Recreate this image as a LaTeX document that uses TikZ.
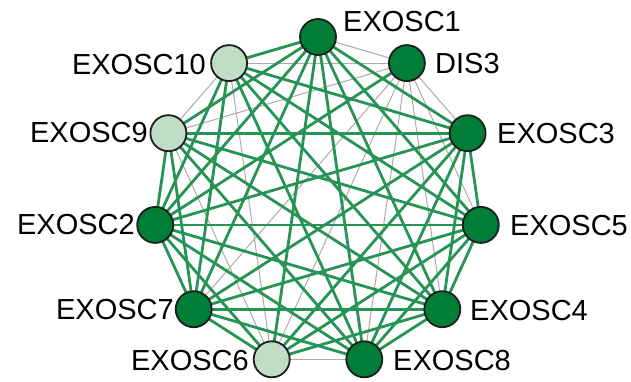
\documentclass[tikz,border=0pt]{standalone}
\usepackage{fontspec}
\setmainfont{Liberation Sans}
\definecolor{edgegreen}{RGB}{38,148,84}
\definecolor{edgegray}{RGB}{178,168,172}
\definecolor{darknode}{RGB}{0,125,55}
\definecolor{lightnode}{RGB}{192,221,197}
\definecolor{rimcol}{RGB}{30,30,30}
\tikzset{
  x=1pt, y=-1pt,
  protein/.style={circle, draw=rimcol, line width=1.8pt, minimum size=36pt, inner sep=0pt},
  core/.style={protein, fill=darknode},
  peripheral/.style={protein, fill=lightnode},
  strong/.style={draw=edgegreen, line width=2.8pt},
  weak/.style={draw=edgegray, line width=1pt},
  tag/.style={font=\fontsize{29}{32}\selectfont, inner sep=0pt}
}
\begin{document}
\begin{tikzpicture}
\useasboundingbox (0,0) rectangle (631,381);

% node positions on a regular 11-gon
\coordinate (p0)  at (318.0, 37.0);
\coordinate (p1)  at (406.9, 63.1);
\coordinate (p2)  at (467.6,133.2);
\coordinate (p3)  at (480.8,224.9);
\coordinate (p4)  at (442.3,309.2);
\coordinate (p5)  at (364.3,359.3);
\coordinate (p6)  at (271.7,359.3);
\coordinate (p7)  at (193.7,309.2);
\coordinate (p8)  at (155.2,224.9);
\coordinate (p9)  at (168.4,133.2);
\coordinate (p10) at (229.1, 63.1);

% weak associations
\foreach \a/\b in {0/1,1/2,1/3,1/4,1/5,1/6,1/7,1/9,1/10,10/9,10/6,9/6,6/5}
  \draw[weak] (p\a) -- (p\b);

% strong associations
\foreach \a/\b in {0/2,0/3,0/4,0/5,0/6,0/7,0/8,0/9,0/10,
                   1/8,
                   2/3,2/4,2/5,2/6,2/7,2/8,2/9,2/10,
                   3/4,3/5,3/6,3/7,3/8,3/9,3/10,
                   4/5,4/6,4/7,4/8,4/9,4/10,
                   5/7,5/8,5/9,5/10,
                   6/7,6/8,
                   7/8,7/9,7/10,
                   8/9,8/10}
  \draw[strong] (p\a) -- (p\b);

% proteins
\node[core]       (n0)  at (p0)  {};
\node[core]       (n1)  at (p1)  {};
\node[core]       (n2)  at (p2)  {};
\node[core]       (n3)  at (p3)  {};
\node[core]       (n4)  at (p4)  {};
\node[core]       (n5)  at (p5)  {};
\node[peripheral] (n6)  at (p6)  {};
\node[core]       (n7)  at (p7)  {};
\node[core]       (n8)  at (p8)  {};
\node[peripheral] (n9)  at (p9)  {};
\node[peripheral] (n10) at (p10) {};

% labels
\node[tag, anchor=west] (l0)  at (343,22)  {EXOSC1};
\node[tag, anchor=west] (l1)  at (435,64)  {DIS3};
\node[tag, anchor=west] (l2)  at (497,134) {EXOSC3};
\node[tag, anchor=west] (l3)  at (510,226) {EXOSC5};
\node[tag, anchor=west] (l4)  at (470,311) {EXOSC4};
\node[tag, anchor=west] (l5)  at (393,361) {EXOSC8};
\node[tag, anchor=east] (l6)  at (249,361) {EXOSC6};
\node[tag, anchor=east] (l7)  at (174,310) {EXOSC7};
\node[tag, anchor=east] (l8)  at (135,225) {EXOSC2};
\node[tag, anchor=east] (l9)  at (148,133) {EXOSC9};
\node[tag, anchor=east] (l10) at (206,65)  {EXOSC10};
\end{tikzpicture}
\end{document}
